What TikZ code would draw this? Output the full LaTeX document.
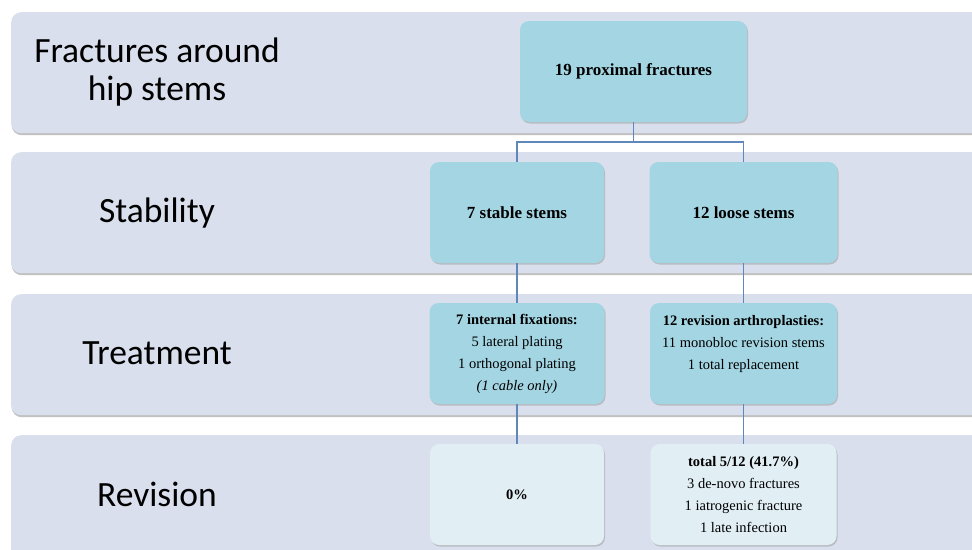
\documentclass[tikz,border=0pt]{standalone}
\usepackage{fontspec}
\setmainfont{Liberation Serif}
\newfontfamily\bandfont{Carlito}
\usetikzlibrary{shadows}
\definecolor{bandfill}{RGB}{217,223,236}
\definecolor{boxfill}{RGB}{163,213,227}
\definecolor{paleboxfill}{RGB}{225,239,245}
\definecolor{linkblue}{RGB}{95,135,185}

\begin{document}
\begin{tikzpicture}
[x=1pt, y=-1pt,
 band/.style={fill=bandfill, rounded corners=10pt, minimum width=990pt,
   anchor=north west, inner sep=0pt,
   drop shadow={shadow xshift=0.5pt, shadow yshift=-2pt, fill=black!40, opacity=.6}},
 title/.style={font=\bandfont\fontsize{35.5}{38}\selectfont, align=center, inner sep=0pt},
 box/.style={fill=boxfill, rounded corners=9pt, minimum height=101pt, inner sep=0pt,
   align=center, font=\fontsize{14.5}{22}\selectfont,
   drop shadow={shadow xshift=1pt, shadow yshift=-1.5pt, fill=black!40, opacity=.5}},
 bigbox/.style={box, font=\fontsize{17}{22}\selectfont\bfseries},
 pale/.style={box, fill=paleboxfill},
 link/.style={draw=linkblue, line width=1.2pt}]
\useasboundingbox (0,0) rectangle (972,549);
\clip (0,0) rectangle (972,549);
\fill[white] (0,0) rectangle (972,549);

% levels
\node[band, minimum height=121pt] (band1) at (11,12) {};
\node[band, minimum height=121pt] (band2) at (11,152) {};
\node[band, minimum height=121pt] (band3) at (11,294) {};
\node[band, minimum height=140pt] (band4) at (11,435) {};

\node[title] (lvl1) at (157,72) {Fractures around\\hip stems};
\node[title] (lvl2) at (157,213) {Stability};
\node[title] (lvl3) at (157,353) {Treatment};
\node[title] (lvl4) at (157,494) {Revision};

% boxes
\node[bigbox, minimum width=227pt] (all) at (633.5,71.5) {19 proximal fractures};
\node[bigbox, minimum width=174pt] (stable) at (517,212.5) {7 stable stems};
\node[bigbox, minimum width=188pt] (loose) at (743.5,212.5) {12 loose stems};
\node[box, minimum width=175pt] (fix) at (517,353.5)
  {\textbf{7 internal fixations:}\\5 lateral plating\\1 orthogonal plating\\\textit{(1 cable only)}};
\node[box, minimum width=187pt] (arthro) at (743.5,353.5)
  {\textbf{12 revision arthroplasties:}\\11 monobloc revision stems\\1 total replacement\\\mbox{}};
\node[pale, minimum width=174pt] (nil) at (517,494.5) {\textbf{0\%}};
\node[pale, minimum width=186pt] (total) at (743.5,494.5)
  {\textbf{total 5/12 (41.7\%)}\\3 de-novo fractures\\1 iatrogenic fracture\\1 late infection};

% links
\coordinate (split) at (633.5,142);
\draw[link] (all) -- (split);
\draw[link] (split) -| (stable);
\draw[link] (split) -| (loose);
\draw[link] (stable) -- (fix);
\draw[link] (loose) -- (arthro);
\draw[link] (fix) -- (nil);
\draw[link] (arthro) -- (total);
\end{tikzpicture}
\end{document}
